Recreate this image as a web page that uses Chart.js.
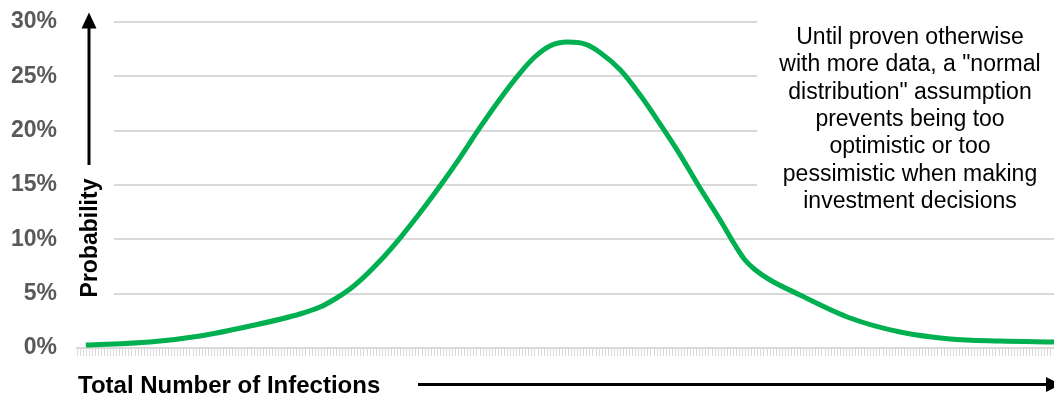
<!DOCTYPE html>
<html>
<head>
<meta charset="utf-8">
<script src="https://cdn.jsdelivr.net/npm/chart.js@4/dist/chart.umd.min.js"></script>
<style>
  html, body { margin: 0; padding: 0; background: #fff; }
  #wrap { width: 1054px; height: 395px; position: relative; }
</style>
</head>
<body>
<div id="wrap"><canvas id="c"></canvas></div>
<script>
// ---- data ----
const xValues = [2.9, 23.9, 40.3, 56.7, 73.0, 79.6, 84.5, 89.4, 94.3, 99.2, 105.8, 112.3, 118.9, 125.4, 132.0, 138.5, 145.1, 150.0, 154.9, 160.8, 166.4, 171.3, 177.9, 184.4, 191.0, 197.5, 204.1, 210.6, 215.5, 218.8, 222.1, 227.0, 236.8, 253.2, 269.6, 285.9, 302.3, 320];
const probValues = [0.28, 0.55, 1.10, 2.02, 3.13, 3.77, 4.51, 5.43, 6.62, 8.0, 10.12, 12.42, 14.9, 17.5, 20.3, 22.9, 25.3, 26.8, 27.8, 28.15, 27.96, 27.2, 25.6, 23.3, 20.6, 17.8, 14.7, 11.8, 9.48, 8.1, 7.2, 6.26, 4.88, 2.76, 1.47, 0.83, 0.64, 0.55];
const yTickValues = [0, 5, 10, 15, 20, 25, 30];
const xTitle = 'Total Number of Infections';
const yTitle = 'Probability';
const noteLines = ['Until proven otherwise', 'with more data, a "normal', 'distribution" assumption', 'prevents being too', 'optimistic or too', 'pessimistic when making', 'investment decisions'];

const FONT = '"Liberation Sans", Arial, Helvetica, sans-serif';

const decor = {
  id: 'decor',
  beforeDatasetsDraw(chart) {
    const ctx = chart.ctx;
    ctx.save();
    ctx.fillStyle = '#ffffff';
    ctx.fillRect(chart.chartArea.left - 2, 0, 114 - chart.chartArea.left + 2, 336);
    ctx.fillRect(757, 0, 1054 - 757, 228);
    ctx.restore();
  },
  afterDraw(chart) {
    const ctx = chart.ctx;
    ctx.save();
    ctx.fillStyle = '#000';
    ctx.strokeStyle = '#000';
    ctx.lineWidth = 3;
    ctx.beginPath(); ctx.moveTo(89, 165); ctx.lineTo(89, 26); ctx.stroke();
    ctx.beginPath(); ctx.moveTo(89, 12.5); ctx.lineTo(96.5, 28.5); ctx.lineTo(81.5, 28.5); ctx.closePath(); ctx.fill();
    ctx.save();
    ctx.translate(96.5, 238);
    ctx.rotate(-Math.PI / 2);
    ctx.font = 'bold 23px ' + FONT;
    ctx.textAlign = 'center';
    ctx.textBaseline = 'alphabetic';
    ctx.fillText(yTitle, 0, 0);
    ctx.restore();
    ctx.font = 'bold 24px ' + FONT;
    ctx.textAlign = 'left';
    ctx.textBaseline = 'alphabetic';
    ctx.fillText(xTitle, 78, 393);
    ctx.lineWidth = 3;
    ctx.beginPath(); ctx.moveTo(418, 384.5); ctx.lineTo(1046, 384.5); ctx.stroke();
    ctx.beginPath(); ctx.moveTo(1061, 384.5); ctx.lineTo(1046, 377); ctx.lineTo(1046, 392); ctx.closePath(); ctx.fill();
    ctx.font = '23px ' + FONT;
    ctx.textAlign = 'center';
    noteLines.forEach((t, i) => ctx.fillText(t, 910, 44 + i * 27.3));
    ctx.restore();
  }
};

new Chart(document.getElementById('c'), {
  type: 'line',
  data: {
    datasets: [{
      data: xValues.map((x, i) => ({ x: x, y: probValues[i] })),
      borderColor: '#00b050',
      borderWidth: 5,
      pointRadius: 0,
      cubicInterpolationMode: 'monotone',
      fill: false,
      clip: false
    }]
  },
  options: {
    responsive: true,
    maintainAspectRatio: false,
    animation: false,
    events: [],
    layout: { padding: { top: 22, right: 0, left: 0, bottom: 0 } },
    plugins: { legend: { display: false }, tooltip: { enabled: false } },
    scales: {
      x: {
        type: 'linear',
        min: 0,
        max: 320,
        ticks: { display: false, stepSize: 1, autoSkip: false },
        grid: { drawOnChartArea: false, drawTicks: true, tickLength: 8, color: '#d9d9d9', lineWidth: 1 },
        border: { display: true, color: '#d9d9d9', width: 2 },
        afterFit(s) { s.height = 47; }
      },
      y: {
        min: 0,
        max: 30,
        afterBuildTicks(s) { s.ticks = yTickValues.map(v => ({ value: v })); },
        ticks: {
          padding: 20,
          color: '#595959',
          font: { family: FONT, size: 23, weight: 'bold' },
          callback: v => v + '%'
        },
        grid: { drawTicks: false, color: '#d9d9d9', lineWidth: 2 },
        border: { display: false },
        afterFit(s) { s.width = 77; s.paddingTop = 0; s.paddingBottom = 0; }
      }
    }
  },
  plugins: [decor]
});
</script>
</body>
</html>
